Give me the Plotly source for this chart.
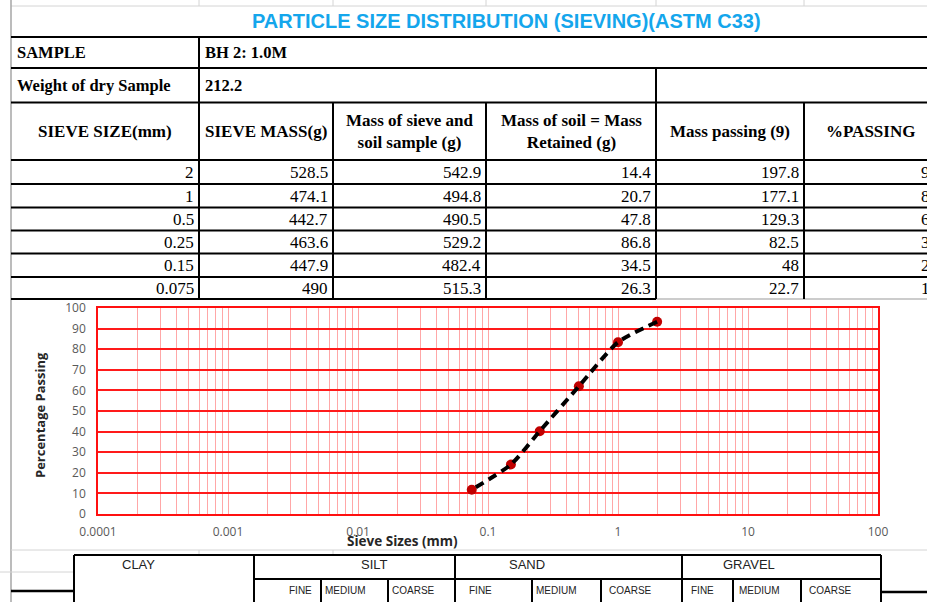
import plotly.graph_objects as go

# ---------------- data ----------------
sieve_sizes = [2, 1, 0.5, 0.25, 0.15, 0.075]
sieve_mass = [528.5, 474.1, 442.7, 463.6, 447.9, 490]
sieve_plus_soil = [542.9, 494.8, 490.5, 529.2, 482.4, 515.3]
mass_retained = [14.4, 20.7, 47.8, 86.8, 34.5, 26.3]
mass_passing = [197.8, 177.1, 129.3, 82.5, 48, 22.7]
percent_passing_table = [93.2, 83.5, 60.9, 38.9, 22.6, 10.7]
percent_passing_chart = [93.3, 83.4, 62.0, 40.2, 24.0, 11.8]

x_tick_vals = [0.0001, 0.001, 0.01, 0.1, 1, 10, 100]
x_tick_text = ["0.0001", "0.001", "0.01", "0.1", "1", "10", "100"]
y_tick_vals = [0, 10, 20, 30, 40, 50, 60, 70, 80, 90, 100]

title_text = "PARTICLE SIZE DISTRIBUTION (SIEVING)(ASTM C33)"
sample_id = "BH 2: 1.0M"
dry_weight = "212.2"
headers = ["SIEVE SIZE(mm)", "SIEVE MASS(g)", "Mass of sieve and<br>soil sample (g)",
           "Mass of soil = Mass<br>Retained (g)", "Mass passing (9)", "%PASSING"]
soil_classes = ["CLAY", "SILT", "SAND", "GRAVEL"]
sub_classes = ["FINE", "MEDIUM", "COARSE"]

# ---------------- layout helpers ----------------
W, H = 927, 602


def X(px):
    return px / W


def Y(py):
    return 1 - py / H


shapes = []
annotations = []


def hline(x0, x1, y, color="black", width=2):
    shapes.append(dict(type="line", xref="paper", yref="paper", x0=X(x0), x1=X(x1),
                       y0=Y(y), y1=Y(y), line=dict(color=color, width=width), layer="above"))


def vline(x, y0, y1, color="black", width=2):
    shapes.append(dict(type="line", xref="paper", yref="paper", x0=X(x), x1=X(x),
                       y0=Y(y0), y1=Y(y1), line=dict(color=color, width=width), layer="above"))


def text(s, x, y, xanchor="center", size=17, family="Liberation Serif", color="black", yanchor="middle", angle=0):
    annotations.append(dict(text=s, xref="paper", yref="paper", x=X(x), y=Y(y), xanchor=xanchor,
                            yanchor=yanchor, showarrow=False, textangle=angle,
                            font=dict(family=family, size=size, color=color)))


def fmt(v):
    return f"{v:g}"


# spreadsheet faint gridlines
light = "#d4d4d4"
hline(11, 927, 6, light, 1)
for cx in [199, 333, 486, 656, 804]:
    vline(cx, 0, 6, light, 1)
vline(11, 0, 602, "#a6a6a6", 1.5)
hline(11, 927, 550, light, 1)
hline(0, 74, 572, light, 1)
for cx in [199, 333]:
    vline(cx, 550, 555, light, 1)

# top table
hline(11, 927, 37)
hline(11, 927, 68)
hline(11, 927, 102.5)
hline(11, 927, 160)
row_edges = [160, 184, 207.5, 230.5, 253.5, 277, 299]
for ry in row_edges[1:-1]:
    hline(11, 927, ry)
hline(11, 656, 299)
hline(656, 927, 299, "#9a9a9a", 1.2)
vline(199, 37, 299)
vline(333, 102.5, 299)
vline(486, 102.5, 299)
vline(656, 68, 299)
vline(804, 102.5, 299)

text("<b>" + title_text + "</b>", 506, 21, size=20, family="Liberation Sans", color="#14A6EC")
text("<b>SAMPLE</b>", 15, 52.5, xanchor="left", size=16.5)
text("<b>" + sample_id + "</b>", 203, 52.5, xanchor="left", size=16.5)
text("<b>Weight of dry Sample</b>", 15, 85.5, xanchor="left", size=16.5)
text("<b>" + dry_weight + "</b>", 203, 85.5, xanchor="left", size=16.5)

col_edges = [11, 199, 333, 486, 656, 804, 956]
for i, h in enumerate(headers):
    cx = (col_edges[i] + col_edges[i + 1]) / 2
    if i == 5:
        cx = 870
    text("<b>" + h + "</b>", cx, 131.5)

columns = [sieve_sizes, sieve_mass, sieve_plus_soil, mass_retained, mass_passing, percent_passing_table]
for ci, col in enumerate(columns):
    right = col_edges[ci + 1] - 3
    for ri, v in enumerate(col):
        cy = (row_edges[ri] + row_edges[ri + 1]) / 2 + 0.5
        text(fmt(v), right, cy, xanchor="right")

# bottom classification table
hline(74, 881, 555)
hline(254, 881, 579)
for cx in [74, 254, 455, 682, 881]:
    vline(cx, 555, 602)
for cx in [321, 388, 532, 601, 733, 801]:
    vline(cx, 579, 602)
hline(11, 74, 591, "black", 2.5)
hline(881, 927, 592, "black", 2.5)

class_x = [138, 374, 527, 749]
for name, cx in zip(soil_classes, class_x):
    text(name, cx, 564, size=13, family="Liberation Sans", color="#222")
sub_x = [[287, 323, 390], [467, 534, 607], [689, 737, 807]]
for group in sub_x:
    for name, sx in zip(sub_classes, group):
        text(name, sx, 590, xanchor="left", size=10, family="Liberation Sans", color="#222")

# chart axis titles (positioned like the original)
text("<b>Sieve Sizes (mm)</b>", 402, 541, size=13.5, family="Open Sans", color="#262626")
text("<b>Percentage Passing</b>", 40, 415, size=13, family="Open Sans", color="#262626", angle=-90)

# ---------------- chart ----------------
minor_vals = [k * 10 ** e for e in range(-4, 2) for k in range(2, 10)]

fig = go.Figure()
fig.add_trace(go.Scatter(x=sieve_sizes, y=percent_passing_chart, mode="markers",
                         marker=dict(color="#C00000", size=10), hoverinfo="skip"))
fig.add_trace(go.Scatter(x=sieve_sizes, y=percent_passing_chart, mode="lines",
                         line=dict(color="black", width=4, dash="9px,6px", shape="spline", smoothing=0.6),
                         hoverinfo="skip"))

fig.update_layout(
    width=W, height=H,
    margin=dict(l=0, r=0, t=0, b=0, autoexpand=False),
    paper_bgcolor="white", plot_bgcolor="white",
    showlegend=False,
    hovermode=False,
    shapes=shapes,
    annotations=annotations,
    xaxis=dict(type="log", range=[-4, 2], domain=[X(98), X(878)], automargin=False,
               tickmode="array", tickvals=x_tick_vals, ticktext=x_tick_text,
               showgrid=True, gridcolor="rgba(255,60,60,0.45)", gridwidth=1,
               minor=dict(tickmode="array", tickvals=minor_vals, showgrid=True,
                          gridcolor="rgba(255,60,60,0.45)", gridwidth=1, ticks=""),
               showline=True, linecolor="#FF1010", linewidth=1.5, mirror=True,
               zeroline=False, ticks="", ticklabelstandoff=6,
               tickfont=dict(family="Open Sans", size=12, color="#595959")),
    yaxis=dict(range=[0, 100], domain=[Y(514), Y(308)], automargin=False,
               tickmode="array", tickvals=y_tick_vals,
               showgrid=True, gridcolor="#FF1A1A", gridwidth=1.6,
               showline=True, linecolor="#FF1010", linewidth=1.5, mirror=True,
               zeroline=False, ticks="", ticklabelstandoff=8,
               tickfont=dict(family="Open Sans", size=12, color="#595959")),
)

fig.write_html("out.html", config={"displayModeBar": False},
               post_script="document.body.style.margin='0px';document.body.style.overflow='hidden';")
